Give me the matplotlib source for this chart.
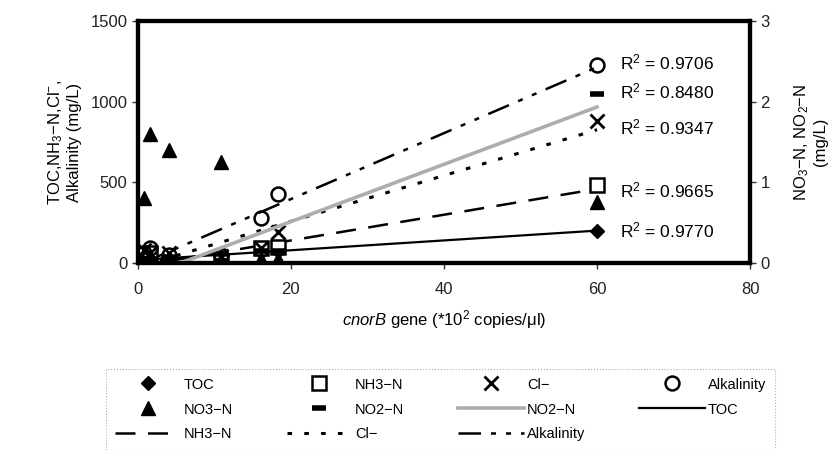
import matplotlib
matplotlib.use("Agg")
import matplotlib.pyplot as plt
import numpy as np

plt.rcParams["font.family"] = ["Liberation Sans", "DejaVu Sans"]
plt.rcParams["mathtext.fontset"] = "custom"
plt.rcParams["mathtext.rm"] = "Liberation Sans"
plt.rcParams["mathtext.it"] = "Liberation Sans:italic"

# cnorB gene (*10^2 copies/ul)
gene = np.array([0.8, 1.6, 4.1, 10.9, 16.1, 18.3, 60.0])

# left axis (mg/L)
toc = np.array([20, 30, 25, 40, 70, 75, 200])
nh3 = np.array([5, 60, 5, 5, 90, 100, 480])
cl = np.array([80, 60, 60, 40, 90, 190, 880])
alk = np.array([60, 90, 50, 50, 280, 430, 1230])

# right axis (mg/L)
no3 = np.array([0.80, 1.60, 1.40, 1.25, 0.05, 0.05, 0.75])
no2 = np.array([0.05, 0.05, 0.05, 0.02, 0.15, 0.15, 2.10])

r2_labels = ["0.9706", "0.8480", "0.9347", "0.9665", "0.9770"]

fig = plt.figure(figsize=(8.4, 4.5), dpi=100)
ax = fig.add_axes([0.164, 0.416, 0.729, 0.537])
ax2 = ax.twinx()


def trend(ax_, y, **kw):
    k, b = np.polyfit(gene, y, 1)
    xs = np.array([gene.min(), gene.max()])
    return ax_.plot(xs, k * xs + b, **kw)[0]


l_toc = trend(ax, toc, color="black", lw=1.6, zorder=2)
l_nh3 = trend(ax, nh3, color="black", lw=1.8, dashes=(8, 5), zorder=2)
l_cl = trend(ax, cl, color="black", lw=2.2, dashes=(1.5, 4), zorder=2)
l_alk = trend(ax, alk, color="black", lw=1.8, dashes=(9, 4, 2, 4, 2, 4), zorder=2)

m_toc, = ax.plot(gene, toc, "D", color="black", ms=7, ls="none", zorder=3)
m_nh3, = ax.plot(gene, nh3, "s", mfc="white", mec="black", mew=1.8, ms=10, ls="none", zorder=3)
m_cl, = ax.plot(gene, cl, "x", color="black", mew=2.0, ms=10, ls="none", zorder=3)
m_alk, = ax.plot(gene, alk, "o", mfc="none", mec="black", mew=1.8, ms=10, ls="none", zorder=3)

l_no2 = trend(ax2, no2, color="0.68", lw=2.6, zorder=2)
m_no3, = ax2.plot(gene, no3, "^", color="black", ms=10, ls="none", zorder=3)
m_no2, = ax2.plot(gene, no2, "_", color="black", mew=4, ms=10, ls="none", zorder=3)

ax.set_xlim(0, 80)
ax.set_ylim(0, 1500)
ax2.set_ylim(0, 3)
ax.set_xticks([0, 20, 40, 60, 80])
ax.set_yticks([0, 500, 1000, 1500])
ax2.set_yticks([0, 1, 2, 3])

for a in (ax, ax2):
    for s in a.spines.values():
        s.set_linewidth(3)
    a.tick_params(labelsize=12, direction="out", length=4, width=1,
                  colors="#333333", labelcolor="#222222")
ax.tick_params(axis="x", pad=10)

ax.set_xlabel("$\\it{cnorB}$ gene (*10$^2$ copies/μl)", fontsize=12, labelpad=8)
ax.set_ylabel("TOC,NH$_3$−N,Cl$^{-}$,\nAlkalinity (mg/L)", fontsize=12, labelpad=6)
ax2.set_ylabel("NO$_3$−N, NO$_2$−N\n(mg/L)", fontsize=12, rotation=90, labelpad=16)

r2_y = [1244, 1063, 838, 450, 200]
for lab, yy in zip(r2_labels, r2_y):
    ax.text(63, yy, "R$^2$ = " + lab, fontsize=12.5, ha="left", va="center")

handles = [
    m_toc, m_no3, l_nh3,
    m_nh3, m_no2, l_cl,
    m_cl, l_no2, l_alk,
    m_alk, l_toc,
]
labels = [
    "TOC", "NO3−N", "NH3−N",
    "NH3−N", "NO2−N", "Cl−",
    "Cl−", "NO2−N", "Alkalinity",
    "Alkalinity", "TOC",
]
leg = fig.legend(
    handles, labels, ncol=4, loc="center",
    bbox_to_anchor=(106 / 840, 0.0, 669 / 840, 0.18), mode="expand",
    fontsize=10.5, handlelength=4.5, handletextpad=0.2, labelspacing=0.75,
    borderpad=0.6, borderaxespad=0, fancybox=False, frameon=True,
)
leg.get_frame().set_edgecolor("0.6")
leg.get_frame().set_linestyle(":")
leg.get_frame().set_linewidth(0.8)

fig.savefig("out.png", dpi=100)
